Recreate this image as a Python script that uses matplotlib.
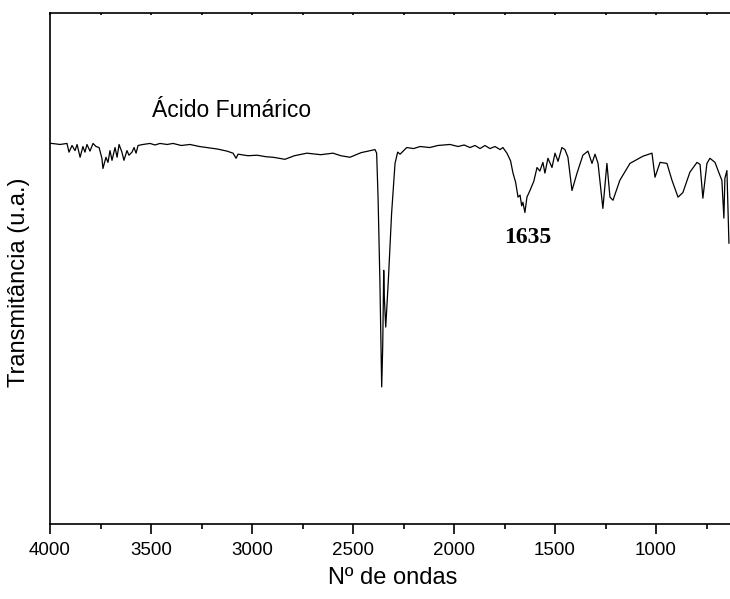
import matplotlib
matplotlib.use("Agg")
import matplotlib.pyplot as plt
from matplotlib.ticker import MultipleLocator, NullLocator

plt.rcParams["font.family"] = ["Liberation Sans", "DejaVu Sans"]

# IR spectrum of fumaric acid
wavenumber = [
    4000, 3990, 3950, 3916, 3906, 3891, 3876, 3866, 3851, 3837, 3827, 3817,
    3802, 3787, 3772, 3757, 3743, 3738, 3723, 3713, 3703, 3693, 3678, 3668,
    3658, 3644, 3634, 3619, 3609, 3594, 3584, 3574, 3564, 3540, 3505, 3480,
    3456, 3420, 3391, 3350, 3307, 3260, 3223, 3170, 3124, 3094, 3079, 3069,
    3020, 2975, 2930, 2896, 2837, 2790, 2728, 2660, 2599, 2560, 2515, 2460,
    2391, 2383, 2376, 2367, 2358, 2353, 2348, 2345, 2338, 2325, 2309, 2292,
    2279, 2267, 2234, 2200, 2168, 2120, 2080, 2020, 1980, 1950, 1921, 1896,
    1871, 1847, 1822, 1797, 1772, 1758, 1738, 1720, 1708, 1695, 1683, 1673,
    1665, 1659, 1649, 1639, 1624, 1605, 1589, 1575, 1560, 1550, 1535, 1515,
    1500, 1485, 1466, 1451, 1436, 1416, 1391, 1362, 1337, 1317, 1302, 1287,
    1263, 1243, 1228, 1213, 1179, 1129, 1065, 1020, 1005, 980, 946, 921, 891,
    867, 832, 797, 782, 768, 748, 733, 708, 688, 674, 664, 659, 649, 639,
]
transmittance = [
    74.4, 74.4, 74.2, 74.4, 72.7, 74.0, 73.0, 74.2, 71.7, 73.8, 72.7, 74.2,
    72.9, 74.4, 73.8, 73.6, 71.5, 69.5, 71.7, 70.7, 73.0, 71.1, 73.6, 71.7,
    74.2, 72.7, 71.1, 73.0, 72.1, 72.7, 73.6, 72.5, 74.0, 74.2, 74.4, 74.1,
    74.4, 74.2, 74.4, 74.0, 74.2, 73.8, 73.6, 73.3, 72.9, 72.5, 71.5, 72.3,
    72.0, 72.1, 71.8, 71.7, 71.3, 72.0, 72.5, 72.2, 72.5, 72.0, 71.7, 72.6,
    73.2, 72.5, 63.9, 47.7, 26.8, 34.6, 49.6, 44.3, 38.5, 47.7, 60.7, 70.5,
    72.7, 72.3, 73.6, 73.4, 73.8, 73.6, 74.0, 74.2, 73.8, 74.1, 73.6, 74.0,
    73.4, 74.0, 73.4, 73.8, 73.2, 73.6, 72.5, 71.0, 68.6, 66.8, 63.9, 64.3,
    62.2, 62.9, 60.9, 63.9, 65.2, 67.0, 69.7, 69.0, 70.7, 68.6, 71.5, 69.7,
    72.5, 70.9, 73.6, 73.2, 71.7, 65.2, 68.6, 72.1, 72.9, 70.5, 72.3, 70.5,
    61.7, 70.5, 63.9, 63.3, 67.2, 70.5, 71.9, 72.5, 67.8, 70.7, 70.5, 67.2,
    63.9, 64.8, 68.8, 70.7, 70.3, 63.7, 70.5, 71.5, 70.7, 68.6, 67.2, 59.8,
    67.6, 69.1, 54.9,
]

sample_name = "Ácido Fumárico"
peak_label = "1635"
x_ticks = [4000, 3500, 3000, 2500, 2000, 1500, 1000]

fig = plt.figure(figsize=(7.30, 5.99), dpi=100)
ax = fig.add_axes([50 / 730, 75 / 599, 685 / 730, 511.5 / 599])

ax.plot(wavenumber, transmittance, color="black", linewidth=0.9)

ax.set_xlim(4000, 609)
ax.set_ylim(0, 100)
ax.set_xticks(x_ticks)
ax.xaxis.set_minor_locator(MultipleLocator(250))
ax.yaxis.set_major_locator(NullLocator())
ax.yaxis.set_minor_locator(NullLocator())

for side in ax.spines.values():
    side.set_linewidth(1.2)

# bottom ticks out, top ticks only tiny marks
ax.tick_params(axis="x", which="major", direction="out", length=7, width=1.2,
               labelsize=13.5, pad=6)
ax.tick_params(axis="x", which="minor", direction="out", length=3.5, width=1.2)
ax.xaxis.set_ticks_position("both")
ax.tick_params(axis="x", which="both", top=True, labeltop=False)
for t in ax.xaxis.get_major_ticks() + ax.xaxis.get_minor_ticks():
    t.tick2line.set_markersize(1.5)
    t.tick2line.set_marker(3)

ax.set_xlabel("Nº de ondas", fontsize=17)
ax.xaxis.set_label_coords(0.5, -0.084)
ax.xaxis.label.set_va("top")
ax.set_ylabel("Transmitância (u.a.)", fontsize=17)
ax.yaxis.set_label_coords(-0.029, 0.473)

ax.text(3495, 79.5, sample_name, fontsize=16.5, ha="left", va="baseline")
ax.text(1635, 56.1, peak_label, fontsize=17, fontweight="bold",
        family=["Liberation Serif", "DejaVu Serif"], ha="center", va="center")

fig.savefig("out.png", dpi=100)
